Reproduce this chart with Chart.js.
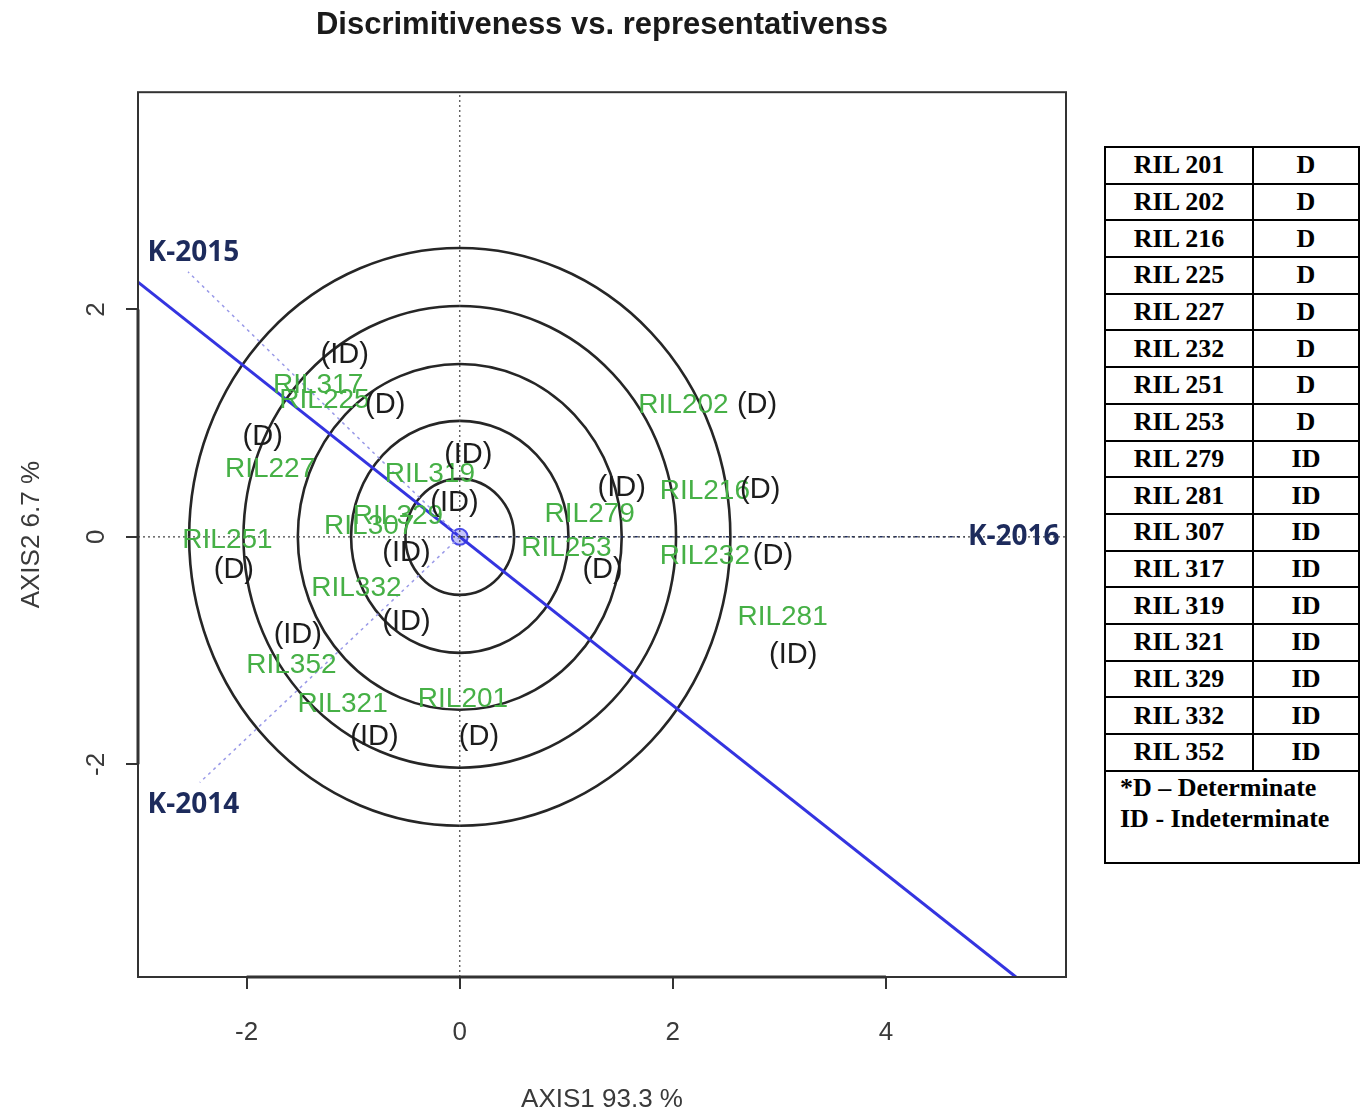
<!DOCTYPE html>
<html>
<head>
<meta charset="utf-8">
<title>Discrimitiveness vs. representativenss</title>
<script src="https://cdn.jsdelivr.net/npm/chart.js@4.4.1/dist/chart.umd.min.js"></script>
<style>
  html, body { margin: 0; padding: 0; background: #fff; }
  #page { position: relative; width: 1368px; height: 1116px; overflow: hidden; }
  #biplot { position: absolute; left: 0; top: 0; }
  #typeTable {
    position: absolute; left: 1104px; top: 146px; width: 256px;
    border-collapse: collapse;
    font-family: 'Liberation Serif', 'Times New Roman', serif;
    font-weight: bold; font-size: 26px; color: #000;
  }
  #typeTable td { border: 2px solid #000; padding: 0; text-align: center; height: 34.7px; line-height: 30px; }
  #typeTable td.name { width: 146px; }
  #typeTable td.note { text-align: left; padding: 0 0 28px 14px; line-height: 31px; }
</style>
</head>
<body>
<div id="page">
  <canvas id="biplot" width="1100" height="1116"></canvas>
  <table id="typeTable"><tbody></tbody></table>
</div>
<script>
// genotype scores on the first two axes, in table order
const genotypeNames = ['RIL201', 'RIL202', 'RIL216', 'RIL225', 'RIL227', 'RIL232', 'RIL251', 'RIL253', 'RIL279',
  'RIL281', 'RIL307', 'RIL317', 'RIL319', 'RIL321', 'RIL329', 'RIL332', 'RIL352'];
const genotypeX = [0.03, 2.10, 2.30, -1.27, -1.78, 2.30, -2.18, 1.00, 1.22,
  3.03, -0.85, -1.33, -0.28, -1.10, -0.58, -0.97, -1.58];
const genotypeY = [-1.43, 1.16, 0.40, 1.20, 0.59, -0.17, -0.03, -0.10, 0.20,
  -0.71, 0.09, 1.33, 0.55, -1.47, 0.18, -0.45, -1.13];
const genotypeType = ['D', 'D', 'D', 'D', 'D', 'D', 'D', 'D', 'ID',
  'ID', 'ID', 'ID', 'ID', 'ID', 'ID', 'ID', 'ID'];
// where each growth-habit tag sits, in axis units
const tagX = [0.18, 2.79, 2.82, -0.70, -1.85, 2.94, -2.12, 1.34, 1.52,
  3.13, -0.50, -1.08, 0.08, -0.80, -0.05, -0.50, -1.52];
const tagY = [-1.76, 1.16, 0.41, 1.16, 0.88, -0.17, -0.29, -0.29, 0.43,
  -1.04, -0.14, 1.60, 0.72, -1.76, 0.30, -0.75, -0.86];

// environment vectors
const envNames = ['K-2014', 'K-2015', 'K-2016'];
const envX = [-2.44, -2.55, 4.74];
const envY = [-2.16, 2.33, 0];
const envLabelX = [-2.93, -2.93, 5.63];
const envLabelY = [-2.36, 2.50, 0];

// average environment axis and its marker
const atcX = [-3.02, 5.22];
const atcY = [2.24, -3.87];
const aecPoint = { x: 0, y: 0 };

// concentric rings around the biplot origin
const ringRadii = [0.51, 1.02, 1.52, 2.03, 2.54];

const xLimits = [-3.02, 5.69];
const yLimits = [-3.87, 3.91];
const xTicks = [-2, 0, 2, 4];
const yTicks = [-2, 0, 2];

const SANS = "'Liberation Sans', Arial, sans-serif";

// right-hand table of growth habit
const tbody = document.querySelector('#typeTable tbody');
genotypeNames.forEach((name, i) => {
  const tr = document.createElement('tr');
  tr.innerHTML = `<td class="name">${name.replace('RIL', 'RIL ')}</td><td>${genotypeType[i]}</td>`;
  tbody.appendChild(tr);
});
const noteRow = document.createElement('tr');
noteRow.innerHTML = '<td class="note" colspan="2">*D \u2013 Determinate<br>ID - Indeterminate</td>';
tbody.appendChild(noteRow);

const biplotPlugin = {
  id: 'biplotDecor',
  beforeDatasetsDraw(chart) {
    const { ctx, scales: { x, y } } = chart;
    const cx = x.getPixelForValue(0);
    const cy = y.getPixelForValue(0);
    ctx.save();
    ctx.strokeStyle = '#262626';
    ctx.lineWidth = 2.6;
    ringRadii.forEach(r => {
      ctx.beginPath();
      ctx.ellipse(cx, cy, x.getPixelForValue(r) - cx, cy - y.getPixelForValue(r), 0, 0, Math.PI * 2);
      ctx.stroke();
    });
    ctx.restore();
  },
  afterDatasetsDraw(chart) {
    const { ctx, scales: { x, y } } = chart;
    ctx.save();
    ctx.textBaseline = 'middle';

    // genotype names
    ctx.font = `28px ${SANS}`;
    ctx.fillStyle = '#46b046';
    ctx.textAlign = 'center';
    genotypeNames.forEach((name, i) => {
      ctx.fillText(name, x.getPixelForValue(genotypeX[i]), y.getPixelForValue(genotypeY[i]));
    });

    // (D) / (ID) tags
    ctx.font = `29px ${SANS}`;
    ctx.fillStyle = '#1c1c1c';
    genotypeType.forEach((t, i) => {
      ctx.fillText(`(${t})`, x.getPixelForValue(tagX[i]), y.getPixelForValue(tagY[i]));
    });

    // environment names
    ctx.font = `bold 28px 'Noto Sans', ${SANS}`;
    ctx.fillStyle = '#1d2b5c';
    envNames.forEach((name, i) => {
      ctx.textAlign = envX[i] < 0 ? 'left' : 'right';
      ctx.fillText(name, x.getPixelForValue(envLabelX[i]), y.getPixelForValue(envLabelY[i]));
    });
    ctx.restore();
  },
  afterDraw(chart) {
    const { ctx, chartArea: a, scales: { x, y } } = chart;
    ctx.save();
    ctx.strokeStyle = '#333';
    ctx.lineWidth = 2;
    ctx.strokeRect(a.left, a.top, a.width, a.height);
    // axis lines run from first to last tick, like base graphics
    ctx.lineWidth = 3;
    ctx.beginPath();
    ctx.moveTo(x.getPixelForValue(xTicks[0]), a.bottom);
    ctx.lineTo(x.getPixelForValue(xTicks[xTicks.length - 1]), a.bottom);
    ctx.moveTo(a.left, y.getPixelForValue(yTicks[0]));
    ctx.lineTo(a.left, y.getPixelForValue(yTicks[yTicks.length - 1]));
    ctx.stroke();
    ctx.restore();
  },
};

const refLine = (data, color, dash, width) => ({
  type: 'scatter', data, showLine: true, borderColor: color, borderWidth: width,
  borderDash: dash, pointRadius: 0, fill: false,
});

const datasets = [
  refLine([{ x: xLimits[0], y: 0 }, { x: xLimits[1], y: 0 }], '#444', [2, 3], 1.2),
  refLine([{ x: 0, y: yLimits[0] }, { x: 0, y: yLimits[1] }], '#444', [2, 3], 1.2),
  ...envNames.map((n, i) => refLine(
    [{ x: 0, y: 0 }, { x: envX[i], y: envY[i] }],
    envX[i] < 0 ? '#9a9ae8' : '#1d2b5c', [3, 4], 1.5)),
  refLine(atcX.map((v, i) => ({ x: v, y: atcY[i] })), '#3434e0', [], 3),
  {
    type: 'scatter', data: [aecPoint], pointRadius: 8, pointBorderWidth: 2,
    pointBorderColor: '#4a4ae8', pointBackgroundColor: 'rgba(90,90,240,0.35)',
  },
  {
    type: 'scatter', data: genotypeNames.map((n, i) => ({ x: genotypeX[i], y: genotypeY[i] })),
    pointRadius: 0,
  },
];

const tickGrid = { drawOnChartArea: false, drawTicks: true, tickLength: 12, color: '#333', lineWidth: 2 };

new Chart(document.getElementById('biplot').getContext('2d'), {
  type: 'scatter',
  data: { datasets },
  options: {
    responsive: false,
    animation: false,
    events: [],
    layout: { padding: { left: 0, right: 34, top: 0, bottom: 0 } },
    plugins: {
      legend: { display: false },
      tooltip: { enabled: false },
      title: {
        display: true,
        fullSize: false,
        text: 'Discrimitiveness vs. representativenss',
        color: '#1a1a1a',
        font: { family: SANS, size: 31, weight: 'bold' },
        padding: { top: 7, bottom: 48 },
      },
    },
    scales: {
      x: {
        type: 'linear',
        min: xLimits[0],
        max: xLimits[1],
        afterBuildTicks: s => { s.ticks = xTicks.map(v => ({ value: v })); },
        afterFit: s => { s.height = 139; },
        grid: tickGrid,
        border: { display: false },
        ticks: { color: '#3a3a3a', padding: 28, font: { family: SANS, size: 26 } },
        title: {
          display: true, text: 'AXIS1 93.3 %', color: '#3a3a3a',
          font: { family: SANS, size: 26 }, padding: { bottom: 1 },
        },
      },
      y: {
        type: 'linear',
        min: yLimits[0],
        max: yLimits[1],
        afterBuildTicks: s => { s.ticks = yTicks.map(v => ({ value: v })); },
        afterFit: s => { s.width = 138; },
        grid: tickGrid,
        border: { display: false },
        ticks: {
          color: '#3a3a3a', padding: 18, minRotation: 90, maxRotation: 90, crossAlign: 'center',
          font: { family: SANS, size: 26 },
        },
        title: {
          display: true, text: 'AXIS2 6.7 %', color: '#3a3a3a',
          font: { family: SANS, size: 26 }, padding: { top: 16 },
        },
      },
    },
  },
  plugins: [biplotPlugin],
});
</script>
</body>
</html>
